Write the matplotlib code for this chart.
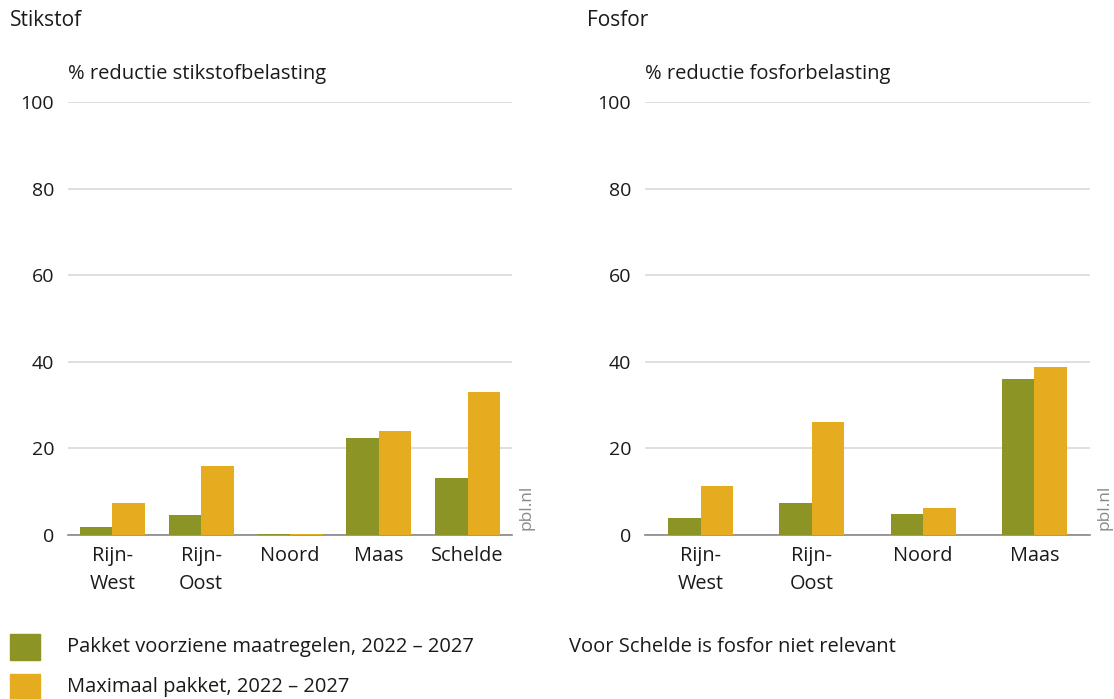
import numpy as np
import matplotlib
matplotlib.use("Agg")
import matplotlib.pyplot as plt
from matplotlib.patches import Rectangle

plt.rcParams['font.family'] = ['Open Sans', 'DejaVu Sans']

# data
n_regions = ['Rijn-\nWest', 'Rijn-\nOost', 'Noord', 'Maas', 'Schelde']
n_basis = [1.8, 4.6, 0.3, 22.3, 13.1]
n_max = [7.5, 15.9, 0.3, 24.0, 33.0]

p_regions = ['Rijn-\nWest', 'Rijn-\nOost', 'Noord', 'Maas']
p_basis = [3.9, 7.4, 4.9, 36.0]
p_max = [11.3, 26.1, 6.3, 38.7]

yticks = [0, 20, 40, 60, 80, 100]
series_labels = ['Pakket voorziene maatregelen, 2022 \u2013 2027',
                 'Maximaal pakket, 2022 \u2013 2027']
green = '#8c9425'
orange = '#e6ac1f'
txt = '#1a1a1a'

W, H = 1114, 699
fig = plt.figure(figsize=(W / 100, H / 100), dpi=100)


def px_axes(x0, y0, x1, y1):
    return fig.add_axes([x0 / W, 1 - y1 / H, (x1 - x0) / W, (y1 - y0) / H])


def panel(ax, cats, a, b, barpx):
    n = len(cats)
    x = np.arange(n)
    axw_px = ax.get_position().width * W
    bw = barpx / (axw_px / n)
    ax.bar(x - bw / 2, a, bw, color=green, edgecolor='none', zorder=3)
    ax.bar(x + bw / 2, b, bw, color=orange, edgecolor='none', zorder=3)
    ax.set_xlim(-0.5, n - 0.5)
    ax.set_ylim(0, 100)
    ax.set_yticks(yticks)
    ax.yaxis.grid(True, color='#d9d9d9', lw=1.2, zorder=0)
    ax.set_xticks(x)
    ax.set_xticklabels(cats, fontsize=14.3, color=txt, linespacing=1.5)
    ax.tick_params(axis='both', length=0, colors=txt)
    ax.tick_params(axis='y', pad=10, labelsize=14)
    ax.tick_params(axis='x', pad=8)
    for s in ['top', 'right', 'left']:
        ax.spines[s].set_visible(False)
    ax.spines['bottom'].set_color('#888888')
    ax.spines['bottom'].set_linewidth(1.2)
    ax.spines['bottom'].set_zorder(2)


ax1 = px_axes(68, 102, 512, 535)
panel(ax1, n_regions, n_basis, n_max, 32.5)
ax2 = px_axes(645, 102, 1090, 535)
panel(ax2, p_regions, p_basis, p_max, 32.5)

fig.text(10 / W, 1 - 20 / H, 'Stikstof', fontsize=15, color=txt, va='center')
fig.text(587 / W, 1 - 20 / H, 'Fosfor', fontsize=15, color=txt, va='center')
fig.text(68 / W, 1 - 74 / H, '% reductie stikstofbelasting', fontsize=14.5, color=txt, va='center')
fig.text(645 / W, 1 - 74 / H, '% reductie fosforbelasting', fontsize=14.5, color=txt, va='center')

for xp in [527, 1105]:
    fig.text(xp / W, 1 - 530 / H, 'pbl.nl', fontsize=12.5, color='#8a8a8a',
             rotation=90, ha='center', va='bottom')

# legend
for i, (lab, col) in enumerate(zip(series_labels, [green, orange])):
    y0 = 634 + i * 40
    fig.patches.append(Rectangle((10 / W, 1 - (y0 + 26) / H), 30 / W, 26 / H,
                                 transform=fig.transFigure, color=col, figure=fig))
    fig.text(67 / W, 1 - (y0 + 13) / H, lab, fontsize=14.5, color=txt, va='center')

fig.text(569 / W, 1 - 647 / H, 'Voor Schelde is fosfor niet relevant', fontsize=14.5,
         color=txt, va='center')

fig.savefig('out.png', dpi=100)
